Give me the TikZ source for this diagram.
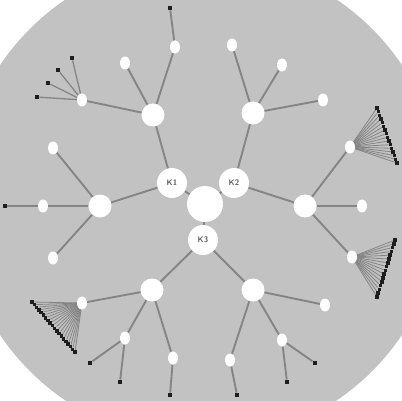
\documentclass[tikz,border=0pt]{standalone}
\usetikzlibrary{shapes.geometric}
\definecolor{bggray}{HTML}{C2C2C2}
\definecolor{edgegray}{HTML}{858585}
\definecolor{tipblack}{HTML}{1E1E1E}
\pgfdeclarelayer{bg}
\pgfdeclarelayer{edges}
\pgfsetlayers{bg,edges,main}
\begin{document}
\begin{tikzpicture}[x=1pt, y=-1pt, line cap=round, line join=round]
	\tikzset{edge/.style={draw=edgegray, line width=1.9pt},
		fanedge/.style={draw=edgegray, line width=0.8pt},
		hub/.style={circle, fill=white, minimum size=23pt, inner sep=0pt},
		knode/.style={circle, fill=white, minimum size=30pt, inner sep=0pt, font=\sffamily\bfseries\fontsize{8}{8}\selectfont, text=black!65},
		leaf/.style={ellipse, fill=white, minimum width=10pt, minimum height=13pt, inner sep=0pt},
		tip/.style={rectangle, fill=tipblack, minimum size=4.5pt, inner sep=0pt}}
	\useasboundingbox (0,0) rectangle (402,401);
	\begin{pgfonlayer}{bg}
		\fill[white] (0,0) rectangle (402,401);
		\begin{scope}
			\clip (0,0) rectangle (402,401);
			\fill[bggray] (201,200) circle (242pt);
		\end{scope}
	\end{pgfonlayer}
	% centre and the three K nodes
	\node[circle, fill=white, minimum size=36pt] (c) at (205,204) {};
	\node[knode] (k1) at (172,183) {K1};
	\node[knode] (k2) at (234,183) {K2};
	\node[knode] (k3) at (203,240) {K3};
	% hubs
	\node[hub] (h1) at (153,115) {};
	\node[hub] (h2) at (253,113) {};
	\node[hub] (h3) at (100,206) {};
	\node[hub] (h4) at (305,206) {};
	\node[hub] (h5) at (152,290) {};
	\node[hub] (h6) at (253,290) {};
	% leaves
	\node[leaf] (h1a) at (125,63) {};
	\node[leaf] (h1b) at (175,47) {};
	\node[leaf] (h1c) at (82,100) {};
	\node[leaf] (h2a) at (232,45) {};
	\node[leaf] (h2b) at (282,65) {};
	\node[leaf] (h2c) at (323,100) {};
	\node[leaf] (h3a) at (53,148) {};
	\node[leaf] (h3b) at (43,206) {};
	\node[leaf] (h3c) at (53,258) {};
	\node[leaf] (h4a) at (350,147) {};
	\node[leaf] (h4b) at (362,206) {};
	\node[leaf] (h4c) at (352,257) {};
	\node[leaf] (h5a) at (82,303) {};
	\node[leaf] (h5b) at (125,338) {};
	\node[leaf] (h5c) at (173,358) {};
	\node[leaf] (h6a) at (325,305) {};
	\node[leaf] (h6b) at (282,340) {};
	\node[leaf] (h6c) at (230,360) {};
	% single tips
	\node[tip] (t1) at (170,8) {};
	\node[tip] (t2) at (5,206) {};
	\node[tip] (t3) at (90,363) {};
	\node[tip] (t4) at (120,382) {};
	\node[tip] (t5) at (170,395) {};
	\node[tip] (t6) at (315,363) {};
	\node[tip] (t7) at (287,382) {};
	\node[tip] (t8) at (237,395) {};
	\begin{pgfonlayer}{edges}
		\foreach \k in {1,2,3}
			\draw[edge] (c) -- (k\k);
		\draw[edge] (k1) -- (h1);
		\draw[edge] (k1) -- (h3);
		\draw[edge] (k2) -- (h2);
		\draw[edge] (k2) -- (h4);
		\draw[edge] (k3) -- (h5);
		\draw[edge] (k3) -- (h6);
		\foreach \h in {1,...,6}
			\foreach \l in {a,b,c}
				\draw[edge] (h\h) -- (h\h\l);
		\draw[edge] (h1b) -- (t1);
		\draw[edge] (h3b) -- (t2);
		\draw[edge] (h5b) -- (t3);
		\draw[edge] (h5b) -- (t4);
		\draw[edge] (h5c) -- (t5);
		\draw[edge] (h6b) -- (t6);
		\draw[edge] (h6b) -- (t7);
		\draw[edge] (h6c) -- (t8);
	\end{pgfonlayer}
	% fans of tips
	\foreach \x/\y [count=\i] in {72/58, 58/70, 48/83, 37/97} {
		\node[tip] (fa\i) at (\x,\y) {};
		\begin{pgfonlayer}{edges}\draw[edge, line width=1.3pt] (h1c) -- (fa\i);\end{pgfonlayer}
	}
	\foreach \i in {0,...,15} {
		\pgfmathsetmacro\fx{377+20*\i/15}
		\pgfmathsetmacro\fy{108+55*\i/15}
		\node[tip, minimum size=3.5pt] (fb\i) at (\fx,\fy) {};
		\begin{pgfonlayer}{edges}\draw[fanedge] (h4a) -- (fb\i);\end{pgfonlayer}
	}
	\foreach \i in {0,...,15} {
		\pgfmathsetmacro\fx{395-18*\i/15}
		\pgfmathsetmacro\fy{240+57*\i/15}
		\node[tip, minimum size=3.5pt] (fc\i) at (\fx,\fy) {};
		\begin{pgfonlayer}{edges}\draw[fanedge] (h4c) -- (fc\i);\end{pgfonlayer}
	}
	\foreach \i in {0,...,19} {
		\pgfmathsetmacro\fx{32+43*\i/19}
		\pgfmathsetmacro\fy{302+50*\i/19}
		\node[tip, minimum size=3.5pt] (fd\i) at (\fx,\fy) {};
		\begin{pgfonlayer}{edges}\draw[fanedge] (h5a) -- (fd\i);\end{pgfonlayer}
	}
\end{tikzpicture}
\end{document}
